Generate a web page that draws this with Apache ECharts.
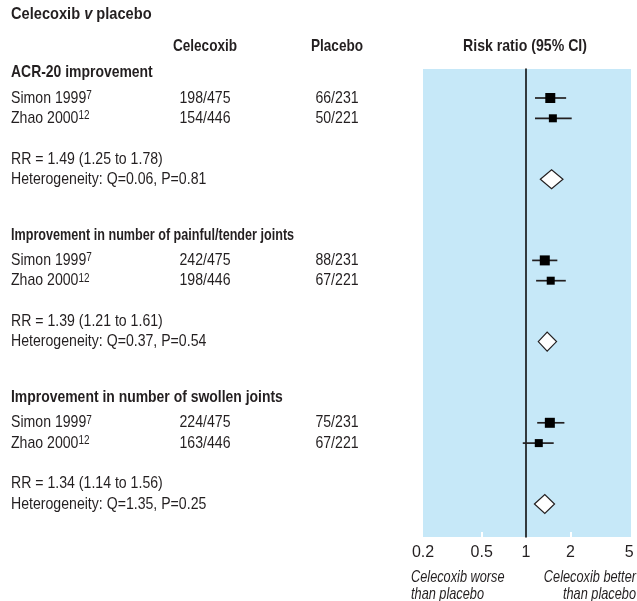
<!DOCTYPE html>
<html>
<head>
<meta charset="utf-8">
<script src="https://cdn.jsdelivr.net/npm/echarts@6/dist/echarts.min.js"></script>
<style>
  html, body { margin: 0; padding: 0; background: #fff; }
  #chart { width: 637px; height: 601px; }
</style>
</head>
<body>
<div id="chart"></div>
<script>
// ---- data ----
const outcomes = [
  'ACR-20 improvement',
  'Improvement in number of painful/tender joints',
  'Improvement in number of swollen joints'
];
const studies = ['Simon 1999', 'Zhao 2000'];
const studyRefs = ['7', '12'];
const celecoxibEvents = ['198/475', '154/446', '242/475', '198/446', '224/475', '163/446'];
const placeboEvents = ['66/231', '50/221', '88/231', '67/221', '75/231', '67/221'];
const studyRR = [1.46, 1.52, 1.34, 1.47, 1.45, 1.22];
const studyLo = [1.15, 1.15, 1.10, 1.17, 1.19, 0.95];
const studyHi = [1.87, 2.04, 1.63, 1.86, 1.82, 1.54];
const pooledRR = [1.49, 1.39, 1.34];
const pooledLo = [1.25, 1.21, 1.14];
const pooledHi = [1.78, 1.61, 1.56];
const heterogeneityQ = ['0.06', '0.37', '1.35'];
const heterogeneityP = ['0.81', '0.54', '0.25'];
const tickValues = [0.2, 0.5, 1, 2, 5];
const tickLabels = ['0.2', '0.5', '1', '2', '5'];
const minorTicks = [0.5, 2];

// ---- style / layout ----
const FONT = "'Liberation Sans', Arial, sans-serif";
const INK = '#231f20';
const PANEL = '#c6e8f8';
const FS = 17;
// horizontal squeeze to get a condensed face out of a regular one
const SQ = { regular: 0.83, bold: 0.8, riskHeader: 0.83, title: 0.86, italic: 0.75 };
const headingSQ = [0.82, 0.742, 0.82];
const BLOCK = 8;            // rows per outcome block
const ROW_PX = 20.3;        // pixel pitch of one row
const rowOf = px => (px - 98) / ROW_PX;
const boxSize = [10, 8];    // box side per study (Simon, Zhao)
const lg = Math.log10;

const GRID_TOP = 69, GRID_BOTTOM = 64;
const yMin = rowOf(GRID_TOP), yMax = rowOf(601 - GRID_BOTTOM);

// ---- marks ----
const studyMarks = studyRR.map((rr, i) => {
  const block = Math.floor(i / 2), idx = i % 2;
  return [lg(studyLo[i]), lg(studyHi[i]), lg(rr), block * BLOCK + idx, idx];
});
const pooledMarks = pooledRR.map((rr, b) => [lg(pooledLo[b]), lg(pooledHi[b]), lg(rr), b * BLOCK + 4]);

// ---- text table ----
const texts = [];
texts.push({ x: 11, row: rowOf(14), text: 'Celecoxib {bi|v} placebo', bold: true, sq: SQ.title });
texts.push({ x: 205, row: rowOf(46), text: 'Celecoxib', bold: true, align: 'center', sq: SQ.bold });
texts.push({ x: 337, row: rowOf(46), text: 'Placebo', bold: true, align: 'center', sq: SQ.bold });
texts.push({ x: 525, row: rowOf(46), text: 'Risk ratio (95% CI)', bold: true, align: 'center', sq: SQ.riskHeader });
outcomes.forEach((name, b) => {
  const base = b * BLOCK;
  texts.push({ x: 11, row: base - 1.25, text: name, bold: true, sq: headingSQ[b] });
  studies.forEach((s, k) => {
    const i = b * 2 + k;
    texts.push({ x: 11, row: base + k, text: s + '{sup|' + studyRefs[k] + '}', sq: SQ.regular });
    texts.push({ x: 205, row: base + k, text: celecoxibEvents[i], align: 'center', sq: SQ.regular });
    texts.push({ x: 337, row: base + k, text: placeboEvents[i], align: 'center', sq: SQ.regular });
  });
  texts.push({ x: 11, row: base + 3, sq: SQ.regular,
    text: 'RR = ' + pooledRR[b].toFixed(2) + ' (' + pooledLo[b].toFixed(2) + ' to ' + pooledHi[b].toFixed(2) + ')' });
  texts.push({ x: 11, row: base + 4, sq: SQ.regular,
    text: 'Heterogeneity: Q=' + heterogeneityQ[b] + ', P=' + heterogeneityP[b] });
});

const chart = echarts.init(document.getElementById('chart'), null, { renderer: 'canvas' });

const option = {
  animation: false,
  backgroundColor: '#ffffff',
  grid: [
    { left: 423, right: 6, top: GRID_TOP, bottom: GRID_BOTTOM, show: true,
      backgroundColor: PANEL, borderWidth: 0 },
    { left: 0, right: 0, top: GRID_TOP, bottom: GRID_BOTTOM, show: false }
  ],
  xAxis: [
    {
      type: 'value', gridIndex: 0,
      min: lg(0.2), max: lg(5.15),
      axisLine: { show: false, onZero: false },
      splitLine: { show: false },
      axisTick: { show: true, inside: true, length: 5, customValues: minorTicks.map(lg),
        lineStyle: { color: '#ffffff', width: 2 } },
      axisLabel: {
        customValues: tickValues.map(lg),
        formatter: v => {
          let best = 0;
          tickValues.forEach((t, i) => { if (Math.abs(lg(t) - v) < Math.abs(lg(tickValues[best]) - v)) best = i; });
          return tickLabels[best];
        },
        color: INK, fontFamily: FONT, fontSize: 16, margin: 8
      }
    },
    { type: 'value', gridIndex: 1, min: 0, max: 637, show: false }
  ],
  yAxis: [
    {
      type: 'value', gridIndex: 0, inverse: true, min: yMin, max: yMax,
      axisLine: { show: true, onZero: true, lineStyle: { color: '#000', width: 1.5 } },
      axisTick: { show: false }, axisLabel: { show: false }, splitLine: { show: false }
    },
    { type: 'value', gridIndex: 1, inverse: true, min: yMin, max: yMax, show: false }
  ],
  series: [
    {
      type: 'custom', xAxisIndex: 0, yAxisIndex: 0, silent: true,
      data: studyMarks,
      renderItem: (params, api) => {
        const row = api.value(3);
        const lo = api.coord([api.value(0), row]);
        const hi = api.coord([api.value(1), row]);
        const c = api.coord([api.value(2), row]);
        const s = boxSize[api.value(4)];
        return {
          type: 'group',
          children: [
            { type: 'line', shape: { x1: lo[0], y1: lo[1], x2: hi[0], y2: hi[1] },
              style: { stroke: INK, lineWidth: 1.7 } },
            { type: 'rect', shape: { x: c[0] - s / 2, y: c[1] - s / 2, width: s, height: s },
              style: { fill: '#000' } }
          ]
        };
      }
    },
    {
      type: 'custom', xAxisIndex: 0, yAxisIndex: 0, silent: true,
      data: pooledMarks,
      renderItem: (params, api) => {
        const row = api.value(3);
        const lo = api.coord([api.value(0), row]);
        const hi = api.coord([api.value(1), row]);
        const c = api.coord([api.value(2), row]);
        const h = 9.5;
        return {
          type: 'polygon',
          shape: { points: [[lo[0], lo[1]], [c[0], c[1] - h], [hi[0], hi[1]], [c[0], c[1] + h]] },
          style: { fill: '#ffffff', stroke: INK, lineWidth: 1.2 }
        };
      }
    },
    {
      type: 'custom', xAxisIndex: 1, yAxisIndex: 1, silent: true, clip: false,
      data: texts.map((t, i) => [t.x, t.row, i]),
      renderItem: (params, api) => {
        const t = texts[api.value(2)];
        const p = api.coord([api.value(0), api.value(1)]);
        return {
          type: 'text',
          x: p[0], y: p[1],
          scaleX: t.sq,
          style: {
            text: t.text,
            fill: INK,
            fontFamily: FONT,
            fontSize: FS,
            fontWeight: t.bold ? 'bold' : 'normal',
            align: t.align || 'left',
            verticalAlign: 'middle',
            rich: {
              sup: { fontSize: 12, fontFamily: FONT, fill: INK, verticalAlign: 'top' },
              bi: { fontSize: FS, fontFamily: FONT, fill: INK, fontWeight: 'bold', fontStyle: 'italic' }
            }
          }
        };
      }
    }
  ],
  graphic: [
    { type: 'text', x: 411, y: 569, scaleX: SQ.italic,
      style: { text: 'Celecoxib worse\nthan placebo', fill: INK,
        font: 'italic ' + FS + 'px ' + FONT, lineHeight: 17, align: 'left' } },
    { type: 'text', x: 636, y: 569, scaleX: SQ.italic,
      style: { text: 'Celecoxib better\nthan placebo', fill: INK,
        font: 'italic ' + FS + 'px ' + FONT, lineHeight: 17, align: 'right' } }
  ]
};

chart.setOption(option);
</script>
</body>
</html>
